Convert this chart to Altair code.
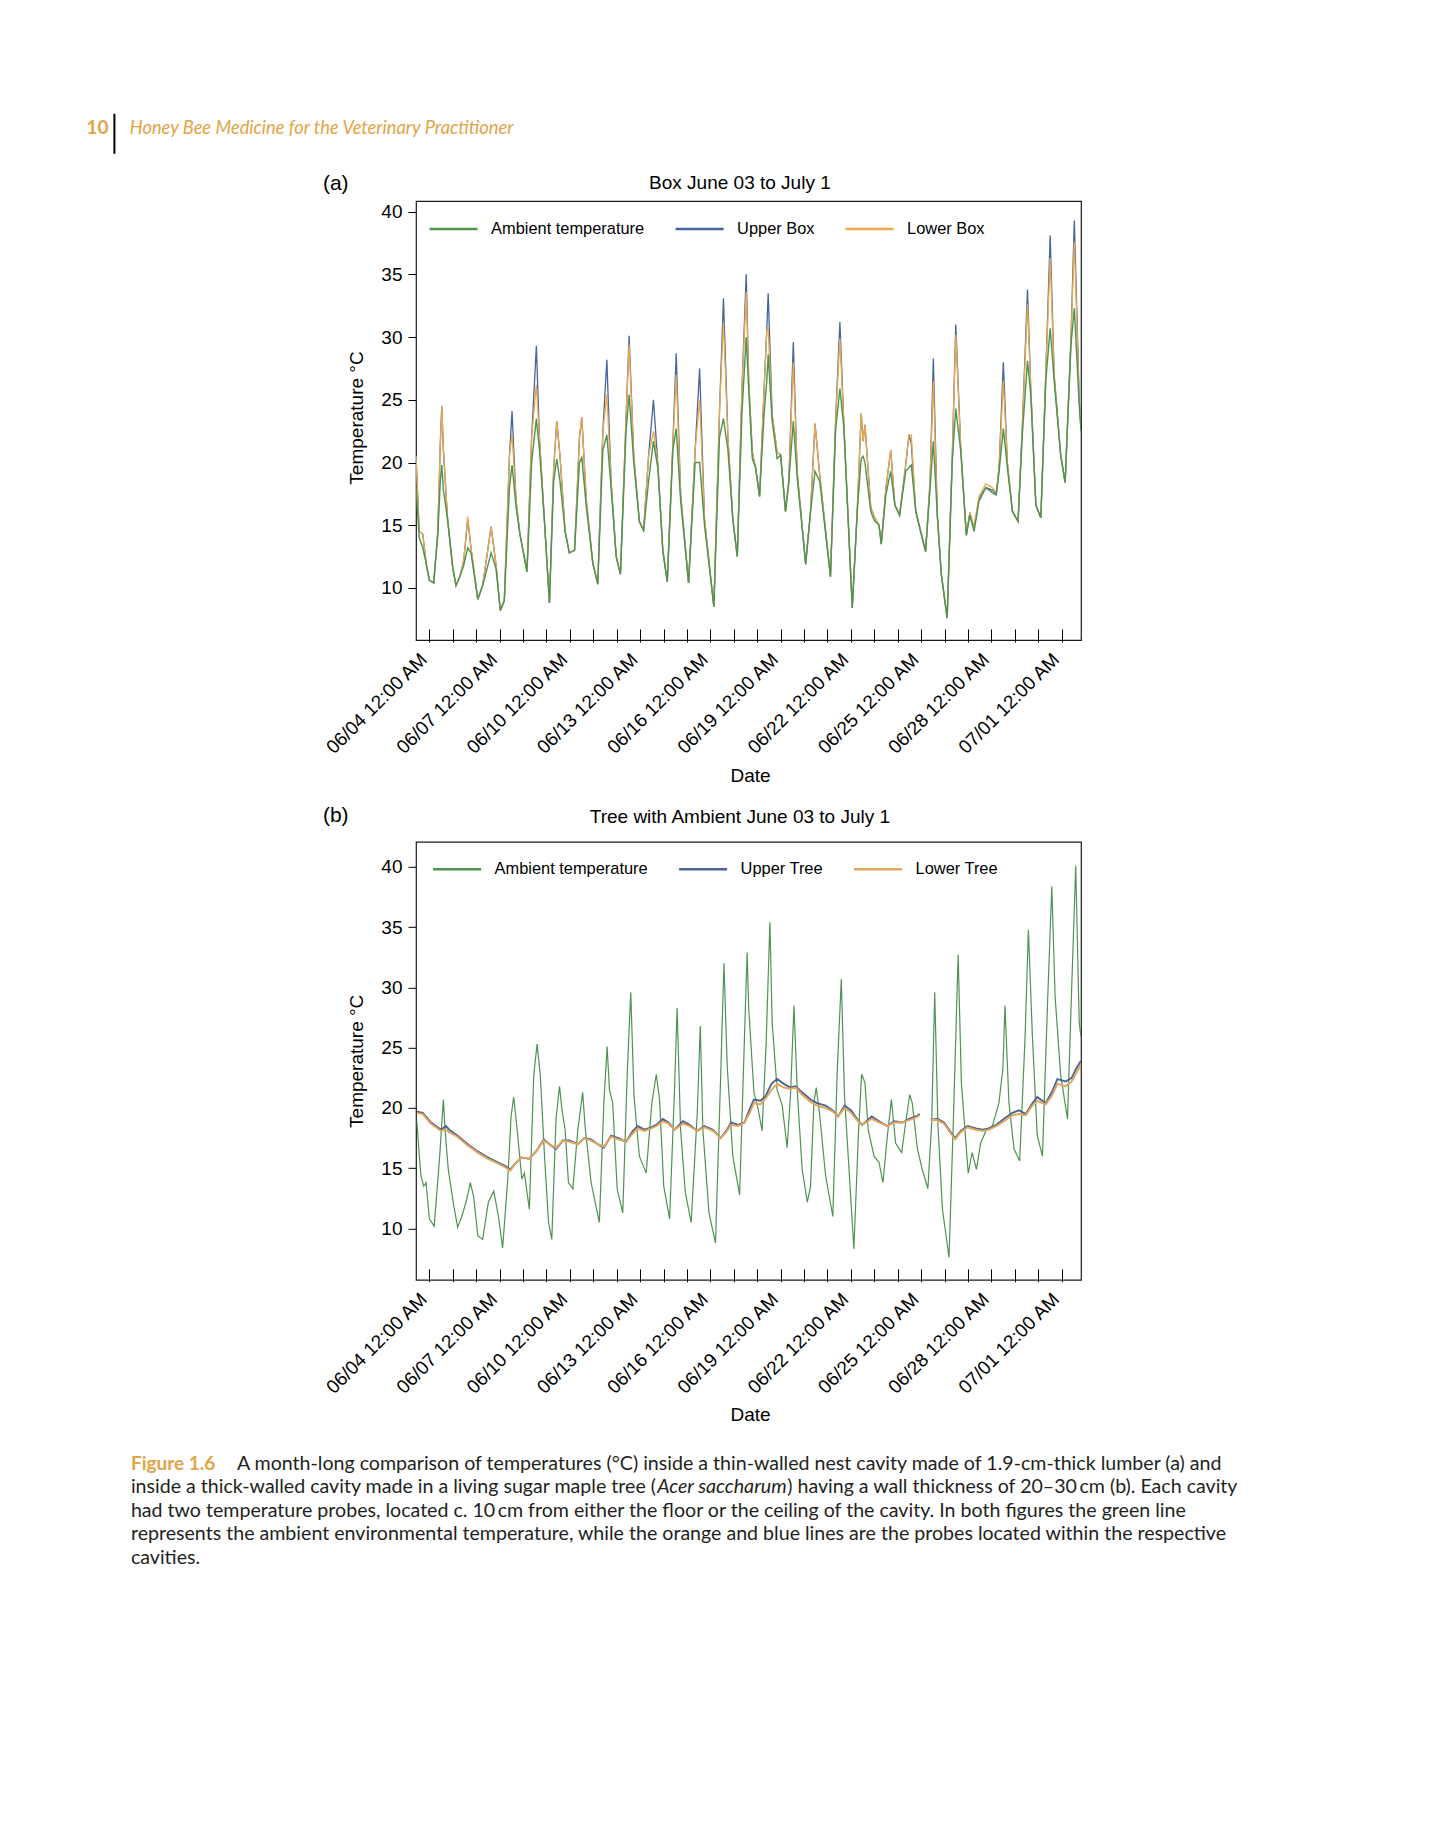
import altair as alt
import pandas as pd

YEAR = 2017

# ---------------- text content ----------------
PAGE_NUMBER = "10"
RUNNING_HEAD = "Honey Bee Medicine for the Veterinary Practitioner"
PANEL_TAGS = ["(a)", "(b)"]
PANEL_TITLES = ["Box June 03 to July 1", "Tree with Ambient June 03 to July 1"]
Y_TITLE = "Temperature °C"
X_TITLE = "Date"
SERIES_A = ["Ambient temperature", "Upper Box", "Lower Box"]
SERIES_B = ["Ambient temperature", "Upper Tree", "Lower Tree"]
CAPTION_TAG = "Figure 1.6"
CAPTION_1 = ("A month-long comparison of temperatures (°C) inside a thin-walled nest cavity "
             "made of 1.9-cm-thick lumber (a) and")
CAPTION_2 = ["inside a thick-walled cavity made in a living sugar maple tree (",
             "Acer saccharum",
             ") having a wall thickness of 20\u201330\u2009cm (b). Each cavity"]
CAPTION_3 = ("had two temperature probes, located c. 10\u2009cm from either the floor or the ceiling "
             "of the cavity. In both figures the green line")
CAPTION_4 = ("represents the ambient environmental temperature, while the orange and blue lines "
             "are the probes located within the respective")
CAPTION_5 = "cavities."

Y_TICKS = [10, 15, 20, 25, 30, 35, 40]
TICK_DAYS = [(6, d) for d in range(4, 31)] + [(7, 1)]

# ---------------- panel (a): Box ----------------
box_times = [
    "06-03 10:20", "06-03 13:40", "06-03 17:15", "06-03 20:40", "06-04 00:00", "06-04 04:30", "06-04 08:40", "06-04 11:15", "06-04 12:45", "06-04 14:25", "06-04 18:40",
    "06-05 00:00", "06-05 03:20", "06-05 07:40", "06-05 11:15", "06-05 15:20", "06-05 18:40",
    "06-06 01:40", "06-06 06:40", "06-06 15:20", "06-06 20:25",
    "06-07 00:45", "06-07 04:50", "06-07 10:05", "06-07 12:45", "06-07 16:50", "06-07 20:50",
    "06-08 04:05", "06-08 08:50", "06-08 13:40", "06-08 16:50", "06-08 21:50",
    "06-09 03:05", "06-09 07:25", "06-09 10:35", "06-09 13:55", "06-09 19:10", "06-09 23:30",
    "06-10 04:50", "06-10 09:50", "06-10 12:15", "06-10 16:50", "06-10 23:30",
    "06-11 04:35", "06-11 09:50", "06-11 13:55", "06-11 18:15", "06-11 23:30",
    "06-12 03:50", "06-12 09:35", "06-12 12:45", "06-12 17:30", "06-12 23:15",
    "06-13 03:35", "06-13 08:40", "06-13 13:40", "06-13 18:15", "06-13 23:15",
    "06-14 03:50", "06-14 09:35", "06-14 13:00", "06-14 17:30",
    "06-15 01:40", "06-15 08:25", "06-15 13:00", "06-15 18:00",
    "06-16 03:35", "06-16 09:20", "06-16 13:25", "06-16 18:00", "06-16 23:00",
    "06-17 03:35", "06-17 08:25", "06-17 12:45", "06-17 15:20", "06-17 19:00", "06-17 22:20",
    "06-18 02:25", "06-18 07:10", "06-18 09:50", "06-18 11:15", "06-18 15:20", "06-18 20:25",
    "06-19 00:00", "06-19 05:00", "06-19 08:25", "06-19 13:00", "06-19 17:00",
    "06-20 01:40", "06-20 06:40", "06-20 11:15", "06-20 16:05",
    "06-21 03:05", "06-21 08:25", "06-21 12:45", "06-21 16:50",
    "06-22 01:25", "06-22 06:30", "06-22 10:35", "06-22 12:30", "06-22 14:25", "06-22 20:25", "06-22 23:45",
    "06-23 04:50", "06-23 07:10", "06-23 11:45", "06-23 16:50", "06-23 21:05",
    "06-24 01:55", "06-24 08:10", "06-24 11:30", "06-24 13:55", "06-24 18:30", "06-24 23:30",
    "06-25 04:35", "06-25 09:10", "06-25 12:30", "06-25 16:35", "06-25 20:40",
    "06-26 02:40", "06-26 07:55", "06-26 11:30", "06-26 16:35", "06-26 22:20",
    "06-27 01:55", "06-27 06:15", "06-27 11:15", "06-27 18:15",
    "06-28 01:00", "06-28 05:00", "06-28 07:55", "06-28 12:15", "06-28 16:20", "06-28 21:35",
    "06-29 03:20", "06-29 07:40", "06-29 13:00", "06-29 16:20", "06-29 21:35",
    "06-30 02:40", "06-30 07:55", "06-30 12:15", "06-30 16:20", "06-30 23:00",
    "07-01 03:35", "07-01 09:35", "07-01 13:00", "07-01 18:00", "07-01 19:50",
]
box_ambient = [
    18.0, 14.0, 13.2, 12.0, 10.6, 10.4, 14.2, 18.5, 19.8, 17.8, 15.5,
    11.6, 10.2, 11.0, 11.8, 13.2, 12.8,
    9.1, 10.2, 12.8, 11.5,
    8.2, 9.0, 18.0, 19.8, 16.5, 14.3,
    11.3, 20.0, 23.5, 21.0, 15.5,
    8.8, 18.5, 20.3, 18.5, 14.5, 12.8,
    13.0, 20.0, 20.4, 16.5, 12.0,
    10.3, 21.0, 22.2, 18.0, 12.5,
    11.1, 22.5, 25.4, 20.0, 15.3,
    14.6, 18.5, 21.7, 19.5, 13.0,
    10.5, 21.0, 22.7, 17.0,
    10.4, 20.0, 20.0, 15.0,
    8.5, 22.0, 23.5, 21.0, 15.5,
    12.5, 24.0, 30.0, 25.7, 20.3, 19.6,
    17.3, 24.0, 26.5, 28.6, 23.3, 20.3,
    20.6, 16.1, 18.5, 23.3, 18.8,
    11.9, 16.1, 19.3, 18.5,
    10.9, 22.7, 25.9, 22.7,
    8.4, 16.1, 20.3, 20.5, 20.0, 16.1, 15.4,
    15.0, 13.5, 17.4, 19.3, 16.6,
    15.8, 19.3, 19.6, 19.8, 16.1, 14.5,
    12.9, 18.0, 21.7, 15.8, 11.1,
    7.6, 20.1, 24.3, 20.9, 14.2,
    15.8, 14.5, 16.9, 18.0,
    17.6, 17.4, 19.3, 22.7, 19.6, 16.1,
    15.3, 22.2, 28.1, 25.4, 16.6,
    15.6, 26.7, 30.7, 26.5, 20.6,
    18.4, 29.4, 32.3, 24.6, 22.5,
]
box_lower = [
    20.5, 14.5, 14.3, 12.0, 10.6, 10.4, 14.5, 21.5, 24.5, 21.0, 15.5,
    11.6, 10.2, 11.0, 12.2, 15.7, 13.2,
    9.1, 10.2, 14.9, 11.8,
    8.2, 9.0, 20.5, 22.3, 17.0, 14.3,
    11.3, 22.0, 26.2, 22.0, 15.5,
    8.8, 19.5, 23.3, 20.5, 14.5, 12.8,
    13.0, 22.0, 23.6, 17.0, 12.0,
    10.3, 22.5, 25.4, 18.5, 12.5,
    11.1, 23.5, 29.4, 20.5, 15.3,
    14.6, 20.5, 22.5, 19.8, 13.0,
    10.5, 21.5, 27.0, 17.5,
    10.4, 21.0, 25.0, 15.5,
    8.5, 24.0, 31.2, 22.0, 15.5,
    12.5, 26.0, 33.6, 26.5, 20.8, 19.6,
    17.3, 26.0, 30.6, 30.7, 23.8, 20.8,
    20.6, 16.1, 18.5, 28.0, 19.2,
    11.9, 16.1, 23.1, 19.0,
    10.9, 23.5, 29.9, 23.0,
    8.4, 16.1, 23.9, 21.7, 23.0, 16.4, 15.7,
    15.0, 13.5, 17.8, 21.0, 16.6,
    15.8, 19.8, 22.2, 22.2, 16.1, 14.5,
    12.9, 18.5, 26.5, 15.8, 11.1,
    7.6, 20.5, 30.2, 21.2, 14.2,
    16.0, 14.8, 17.3, 18.3,
    18.0, 17.6, 19.6, 26.5, 20.0, 16.1,
    15.3, 22.8, 32.6, 26.0, 16.6,
    15.6, 27.5, 36.3, 27.0, 20.6,
    18.4, 30.0, 37.6, 25.0, 22.8,
]
box_upper = [
    20.5, 14.5, 14.3, 12.0, 10.6, 10.4, 14.5, 21.5, 24.5, 21.0, 15.5,
    11.6, 10.2, 11.0, 12.2, 15.5, 13.2,
    9.1, 10.2, 14.9, 11.8,
    8.2, 9.0, 20.5, 24.1, 17.0, 14.3,
    11.3, 22.0, 29.3, 22.0, 15.5,
    8.8, 19.5, 23.3, 20.5, 14.5, 12.8,
    13.0, 22.0, 23.6, 17.0, 12.0,
    10.3, 22.5, 28.2, 18.5, 12.5,
    11.1, 23.5, 30.1, 20.5, 15.3,
    14.6, 20.5, 25.0, 19.8, 13.0,
    10.5, 21.5, 28.7, 17.5,
    10.4, 21.0, 27.5, 15.5,
    8.5, 24.0, 33.1, 22.0, 15.5,
    12.5, 26.0, 35.0, 26.5, 20.8, 19.6,
    17.3, 26.0, 30.6, 33.5, 23.8, 20.8,
    20.6, 16.1, 18.5, 29.6, 19.2,
    11.9, 16.1, 23.1, 19.0,
    10.9, 23.5, 31.2, 23.0,
    8.4, 16.1, 23.9, 21.7, 23.0, 16.4, 15.7,
    15.0, 13.5, 17.8, 21.0, 16.6,
    15.8, 19.8, 22.2, 21.5, 16.1, 14.5,
    12.9, 18.5, 28.3, 15.8, 11.1,
    7.6, 20.5, 31.0, 21.2, 14.2,
    16.0, 14.8, 17.1, 18.0,
    17.8, 17.5, 19.6, 28.0, 20.0, 16.1,
    15.3, 22.8, 33.8, 26.0, 16.6,
    15.6, 27.5, 38.1, 27.0, 20.6,
    18.4, 30.0, 39.3, 25.0, 22.8,
]

# ---------------- panel (b): Tree ----------------
amb_b_times = [
    "06-03 11:15", "06-03 12:45", "06-03 15:20", "06-03 18:15", "06-03 20:40",
    "06-04 00:00", "06-04 05:00", "06-04 10:20", "06-04 14:25", "06-04 16:05", "06-04 19:25",
    "06-05 01:00", "06-05 05:00", "06-05 09:10", "06-05 13:40", "06-05 18:00", "06-05 21:20",
    "06-06 01:40", "06-06 06:40", "06-06 12:30", "06-06 18:00", "06-06 22:50",
    "06-07 03:05", "06-07 08:25", "06-07 11:45", "06-07 14:25", "06-07 18:00", "06-07 22:50",
    "06-08 01:25", "06-08 06:30", "06-08 11:00", "06-08 14:25", "06-08 17:45", "06-08 21:50",
    "06-09 02:10", "06-09 05:30", "06-09 09:50", "06-09 13:25", "06-09 15:50", "06-09 19:10", "06-09 22:35",
    "06-10 03:05", "06-10 08:10", "06-10 13:10", "06-10 15:35", "06-10 21:50",
    "06-11 06:15", "06-11 10:50", "06-11 14:10", "06-11 16:35", "06-11 19:55",
    "06-12 00:30", "06-12 06:15", "06-12 10:50", "06-12 14:25", "06-12 17:45", "06-12 23:15",
    "06-13 06:15", "06-13 12:00", "06-13 16:35", "06-13 19:55",
    "06-14 00:15", "06-14 06:15", "06-14 11:15", "06-14 13:55", "06-14 17:30", "06-14 22:20",
    "06-15 04:20", "06-15 10:35", "06-15 13:40", "06-15 16:20", "06-15 22:35",
    "06-16 05:15", "06-16 10:35", "06-16 13:55", "06-16 17:15", "06-16 23:00",
    "06-17 06:00", "06-17 11:00", "06-17 13:40", "06-17 15:20", "06-17 20:40",
    "06-18 01:00", "06-18 05:00", "06-18 09:10", "06-18 13:00", "06-18 15:20", "06-18 20:25",
    "06-19 01:40", "06-19 06:40", "06-19 10:05", "06-19 13:40", "06-19 17:00", "06-19 22:05",
    "06-20 03:20", "06-20 06:40", "06-20 10:05", "06-20 12:30", "06-20 15:50", "06-20 22:05",
    "06-21 05:30", "06-21 10:05", "06-21 14:10", "06-21 17:30", "06-21 22:05",
    "06-22 03:05", "06-22 07:40", "06-22 11:00", "06-22 14:25", "06-22 17:45", "06-22 23:45",
    "06-23 04:50", "06-23 08:50", "06-23 13:25", "06-23 17:30", "06-23 21:50",
    "06-24 04:05", "06-24 08:10", "06-24 12:15", "06-24 14:55", "06-24 20:10",
    "06-25 01:10", "06-25 06:55", "06-25 10:50", "06-25 13:55", "06-25 17:15", "06-25 21:50",
    "06-26 04:35", "06-26 09:35", "06-26 13:55", "06-26 17:15",
    "06-27 00:15", "06-27 04:20", "06-27 08:40", "06-27 13:00", "06-27 18:55",
    "06-28 01:00", "06-28 07:40", "06-28 11:45", "06-28 13:55", "06-28 18:00", "06-28 23:15",
    "06-29 05:00", "06-29 10:35", "06-29 13:55", "06-29 18:00", "06-29 23:00",
    "06-30 04:20", "06-30 09:20", "06-30 13:55", "06-30 17:15", "06-30 23:00",
    "07-01 06:00", "07-01 10:20", "07-01 14:25", "07-01 18:00", "07-01 19:40",
]
amb_b = [
    18.9, 17.1, 14.4, 13.5, 13.8,
    10.8, 10.2, 15.7, 20.7, 18.2, 14.9,
    11.9, 10.1, 11.0, 12.2, 13.8, 12.7,
    9.4, 9.1, 12.2, 13.1, 11.0,
    8.4, 14.1, 19.3, 20.9, 18.2, 14.1,
    14.6, 11.6, 22.7, 25.3, 22.7, 16.3,
    10.5, 9.1, 19.1, 21.8, 19.9, 18.2, 13.8,
    13.3, 18.2, 21.3, 18.5, 13.8,
    10.5, 20.4, 25.1, 21.5, 20.4,
    13.3, 11.3, 22.9, 29.6, 21.0, 16.0,
    14.6, 20.4, 22.8, 20.7,
    13.5, 10.8, 21.5, 28.3, 18.2, 13.0,
    10.5, 19.6, 26.8, 18.2, 11.3,
    8.8, 22.7, 32.0, 23.5, 16.0,
    12.8, 26.0, 32.9, 28.2, 21.3,
    19.9, 18.1, 25.4, 35.4, 27.1, 21.5,
    20.2, 16.7, 21.0, 28.5, 21.5, 14.9,
    12.2, 13.5, 20.4, 21.7, 19.6, 14.4,
    11.0, 23.2, 30.7, 21.0, 14.9,
    8.3, 17.7, 22.8, 22.1, 18.2, 16.0,
    15.5, 13.8, 17.7, 20.7, 17.1,
    16.3, 18.8, 21.1, 20.4, 16.6,
    14.9, 13.3, 18.8, 29.6, 18.5, 11.6,
    7.6, 20.4, 32.7, 22.1,
    14.6, 16.3, 14.9, 17.1, 18.2,
    18.5, 20.4, 23.2, 28.5, 20.4, 16.6,
    15.6, 26.0, 34.8, 26.0, 17.7,
    16.0, 28.2, 38.4, 29.3, 22.7,
    19.1, 30.1, 40.1, 27.1, 26.0,
]
tree_times = [
    "06-03 11:15", "06-03 17:15", "06-04 01:40", "06-04 12:00", "06-04 17:00", "06-04 20:25",
    "06-05 05:00", "06-05 15:20", "06-06 01:40", "06-06 11:45", "06-06 22:05",
    "06-07 05:30", "06-07 11:00", "06-07 15:10", "06-07 22:05",
    "06-08 06:30", "06-08 13:25", "06-08 21:20",
    "06-09 03:05", "06-09 09:50", "06-09 16:50", "06-09 23:30",
    "06-10 08:10", "06-10 14:55", "06-10 21:50",
    "06-11 04:35", "06-11 10:50", "06-11 18:15",
    "06-12 01:55", "06-12 09:35", "06-12 16:35", "06-12 21:35",
    "06-13 04:35", "06-13 11:15", "06-13 16:35", "06-13 23:15",
    "06-14 05:00", "06-14 11:15", "06-14 19:55",
    "06-15 02:40", "06-15 10:35", "06-15 18:00",
    "06-16 02:40", "06-16 10:35", "06-16 16:20", "06-16 21:20",
    "06-17 04:20", "06-17 11:00", "06-17 16:20", "06-17 20:40",
    "06-18 03:20", "06-18 08:40", "06-18 14:40", "06-18 20:25",
    "06-19 03:20", "06-19 10:05", "06-19 15:20", "06-19 22:05",
    "06-20 06:40", "06-20 13:25", "06-20 22:05",
    "06-21 05:30", "06-21 11:00", "06-21 17:30",
    "06-22 00:15", "06-22 06:15", "06-22 11:30", "06-22 21:20",
    "06-23 04:50", "06-23 13:25", "06-23 20:10",
    "06-24 04:50", "06-24 11:30", "06-24 18:30", "06-24 22:35",
    "06-25 03:00",
    "06-25 09:50", "06-25 16:35", "06-25 23:30",
    "06-26 06:15", "06-26 10:50", "06-26 16:35", "06-26 23:30",
    "06-27 08:10", "06-27 14:55", "06-27 21:35",
    "06-28 05:00", "06-28 13:00", "06-28 21:35",
    "06-29 04:20", "06-29 11:15", "06-29 18:00", "06-29 23:00",
    "06-30 07:40", "06-30 13:55", "06-30 19:40",
    "07-01 04:05", "07-01 10:20", "07-01 14:25", "07-01 19:40",
]
tree_upper = [
    19.7, 19.6, 18.8, 18.2, 18.5, 18.2,
    17.7, 17.0, 16.4, 15.9, 15.5,
    15.2, 14.9, 15.3, 15.9,
    15.8, 16.4, 17.4,
    17.0, 16.6, 17.3, 17.3,
    17.0, 17.5, 17.4,
    17.0, 16.7, 17.7,
    17.5, 17.2, 18.1, 18.5,
    18.2, 18.4, 18.6, 19.1,
    18.8, 18.2, 18.9,
    18.6, 18.1, 18.5,
    18.2, 17.5, 18.1, 18.8,
    18.6, 18.8, 19.9, 20.7,
    20.6, 21.0, 22.0, 22.4,
    22.0, 21.7, 21.8, 21.3,
    20.7, 20.4, 20.2,
    19.8, 19.3, 20.2,
    19.8, 19.1, 18.6, 19.3,
    18.9, 18.5, 18.9,
    18.8, 19.1, 19.3, 19.5,
    None,
    19.0, 19.1, 18.8,
    18.0, 17.5, 18.1, 18.5,
    18.3, 18.2, 18.3,
    18.6, 19.1, 19.6,
    19.8, 19.5, 20.4, 20.9,
    20.4, 21.3, 22.4,
    22.2, 22.5, 23.2, 23.9,
]
tree_lower = [
    19.6, 19.5, 18.7, 18.1, 18.2, 18.0,
    17.6, 16.9, 16.3, 15.8, 15.4,
    15.1, 14.8, 15.3, 15.9,
    15.8, 16.4, 17.3,
    17.0, 16.7, 17.3, 17.2,
    17.0, 17.5, 17.3,
    17.0, 16.8, 17.6,
    17.4, 17.2, 17.9, 18.3,
    18.1, 18.3, 18.5, 18.9,
    18.7, 18.2, 18.7,
    18.5, 18.1, 18.4,
    18.1, 17.5, 18.0, 18.6,
    18.5, 18.8, 19.6, 20.4,
    20.3, 20.8, 21.5, 22.0,
    21.7, 21.6, 21.7, 21.1,
    20.5, 20.2, 20.0,
    19.7, 19.3, 20.0,
    19.6, 19.0, 18.6, 19.1,
    18.8, 18.5, 18.8,
    18.8, 19.0, 19.2, 19.4,
    None,
    19.0, 19.0, 18.7,
    17.9, 17.4, 18.0, 18.4,
    18.2, 18.1, 18.2,
    18.5, 18.9, 19.4,
    19.5, 19.4, 20.2, 20.6,
    20.3, 21.0, 22.0,
    21.8, 22.2, 22.8, 23.6,
]

assert len(box_times) == len(box_ambient) == len(box_lower) == len(box_upper)
assert len(amb_b_times) == len(amb_b)
assert len(tree_times) == len(tree_upper) == len(tree_lower)

# ---------------- styling ----------------
AX_FONT = "Liberation Sans"
BOOK_FONT = "Lato"
GOLD = "#e2a446"
INK = "#231f20"
COLORS = ["#4f9350", "#47649c", "#eaa94c"]
TREE_COLORS = ["#4f9350", "#4d6490", "#e2a55c"]
W = 665
H_A = 439
H_B = 438
CAP = 19.6


def ts(s):
    return f"{YEAR}-{s[:5]}T{s[6:]}:00"


def long_frame(times, series):
    rows = []
    for name, vals in series:
        seg = 0
        for t, v in zip(times, vals):
            if v is None:
                seg += 1
                continue
            rows.append({"time": ts(t), "temp": v, "series": name, "seg": seg})
    return pd.DataFrame(rows)


df_a = long_frame(box_times, [(SERIES_A[0], box_ambient), (SERIES_A[1], box_upper), (SERIES_A[2], box_lower)])
df_b = pd.concat([
    long_frame(amb_b_times, [(SERIES_B[0], amb_b)]),
    long_frame(tree_times, [(SERIES_B[1], tree_upper), (SERIES_B[2], tree_lower)]),
], ignore_index=True)

X_START = alt.DateTime(year=YEAR, month=6, date=3, hours=10, minutes=20)
X_END = alt.DateTime(year=YEAR, month=7, date=1, hours=19, minutes=50)

LABEL_EXPR = ("(month(datum.value) == 5 && (date(datum.value) - 4) % 3 == 0) || "
              "(month(datum.value) == 6 && date(datum.value) == 1) ? "
              "timeFormat(datum.value, '%m/%d %I:%M %p') : ''")


def x_enc():
    return alt.X(
        "time:T",
        scale=alt.Scale(domain=[X_START, X_END]),
        axis=alt.Axis(
            values=[alt.DateTime(year=YEAR, month=m, date=d) for m, d in TICK_DAYS],
            labelExpr=LABEL_EXPR, labelAngle=315, labelAlign="right", labelBaseline="middle",
            labelFont=AX_FONT, labelFontSize=19, labelColor="black", labelPadding=14,
            labelOffset=-6, labelOverlap=False, labelFlush=False,
            tickSize=13, tickColor="black", tickWidth=1, offset=-11,
            domain=False, grid=False,
            title=X_TITLE, titleFont=AX_FONT, titleFontSize=19, titleFontWeight="normal",
            titleColor="black", titleX=334, titleY=152, titleAlign="center",
            titleBaseline="alphabetic",
        ),
    )


def y_enc(domain, title_y):
    return alt.Y(
        "temp:Q",
        scale=alt.Scale(domain=domain, nice=False, zero=False),
        axis=alt.Axis(
            values=Y_TICKS, tickSize=8, tickColor="black", tickWidth=1, labelPadding=6,
            labelFont=AX_FONT, labelFontSize=19, labelColor="black",
            domain=False, grid=False,
            title=Y_TITLE, titleFont=AX_FONT, titleFontSize=19, titleFontWeight="normal",
            titleColor="black", titleAngle=270, titleX=-54, titleY=title_y,
            titleAlign="center", titleBaseline="alphabetic",
        ),
    )


def color_enc(names, colors, lx, ly):
    return alt.Color(
        "series:N",
        scale=alt.Scale(domain=names, range=colors),
        title=None,
        legend=alt.Legend(
            orient="none", legendX=lx, legendY=ly, direction="horizontal",
            symbolType="stroke", symbolSize=2304, symbolStrokeWidth=2.5,
            labelFont=AX_FONT, labelFontSize=16.4, labelColor="black", labelOffset=12,
            columnPadding=25, labelLimit=400, padding=0,
        ),
    )


def txt(s, x, y, size, font=BOOK_FONT, color=INK, weight="normal", style="normal", align="left"):
    return alt.Chart(pd.DataFrame({"t": [s]})).mark_text(
        align=align, baseline="alphabetic", font=font, fontSize=size,
        fontWeight=weight, fontStyle=style, color=color,
    ).encode(x=alt.value(x), y=alt.value(y), text="t:N")


def lines(df, name, names, colors, ydom, title_y, lx, ly, width, detail=False):
    enc = dict(x=x_enc(), y=y_enc(ydom, title_y), color=color_enc(names, colors, lx, ly))
    if detail:
        enc["detail"] = alt.Detail("seg:N")
    return alt.Chart(df).transform_filter(alt.datum.series == name).mark_line(
        strokeWidth=width, clip=True
    ).encode(**enc)


# ---------------- panel (a) ----------------
YD_A = [5.85, 40.85]
LA = dict(ydom=YD_A, title_y=216.5, lx=12.1, ly=2.4)
pa_lines = [
    lines(df_a, SERIES_A[1], SERIES_A, COLORS, width=1.3, **LA),
    lines(df_a, SERIES_A[2], SERIES_A, COLORS, width=1.3, **LA),
    lines(df_a, SERIES_A[0], SERIES_A, COLORS, width=1.4, **LA),
]
header_bar = alt.Chart(pd.DataFrame({"t": [0]})).mark_rule(color="black", strokeWidth=2).encode(
    x=alt.value(-301.6), y=alt.value(-87.2), y2=alt.value(-47.2)
)
pa_text = [
    txt(PAGE_NUMBER, -329.6, -66.9, 19, color=GOLD, weight="bold"),
    header_bar,
    txt(RUNNING_HEAD, -286.3, -66.9, 18.3, color=GOLD, style="italic"),
    txt(PANEL_TAGS[0], -93.1, -11.5, 21, font=AX_FONT, color="black"),
    txt(PANEL_TITLES[0], 323.9, -12.2, 19, font=AX_FONT, color="black", align="center"),
]
panel_a = alt.layer(*pa_lines, *pa_text).properties(width=W, height=H_A)

# ---------------- panel (b) ----------------
YD_B = [5.75, 42.08]
LB = dict(ydom=YD_B, title_y=219, lx=15.6, ly=1.8)
pb_lines = [
    lines(df_b, SERIES_B[0], SERIES_B, TREE_COLORS, width=1.2, **LB),
    lines(df_b, SERIES_B[1], SERIES_B, TREE_COLORS, width=1.9, detail=True, **LB),
    lines(df_b, SERIES_B[2], SERIES_B, TREE_COLORS, width=1.9, detail=True, **LB),
]
CX = -285.1
pb_text = [
    txt(PANEL_TAGS[1], -93.1, -20, 21, font=AX_FONT, color="black"),
    txt(PANEL_TITLES[1], 323.9, -19.2, 19, font=AX_FONT, color="black", align="center"),
    txt(CAPTION_TAG, CX, 628, 19, color=GOLD, weight="bold"),
    txt(CAPTION_1, -179.1, 628, CAP),
    txt(CAPTION_2[0], CX, 651.5, CAP),
    txt(CAPTION_2[1], 241.2, 651.5, CAP, style="italic"),
    txt(CAPTION_2[2], 371.2, 651.5, CAP),
    txt(CAPTION_3, CX, 675, CAP),
    txt(CAPTION_4, CX, 698.5, CAP),
    txt(CAPTION_5, CX, 722, CAP),
]
panel_b = alt.layer(*pb_lines, *pb_text).properties(width=W, height=H_B)

chart = (
    alt.vconcat(panel_a, panel_b, spacing=201.8, bounds="flush")
    .resolve_scale(color="independent")
    .resolve_legend(color="independent")
    .properties(padding={"left": 77, "top": 104, "right": 20, "bottom": 20}, background="white")
    .configure_view(stroke="#1a1a1a", strokeWidth=1.2)
)

chart.save("out.html", embed_options={"renderer": "svg", "actions": False})
